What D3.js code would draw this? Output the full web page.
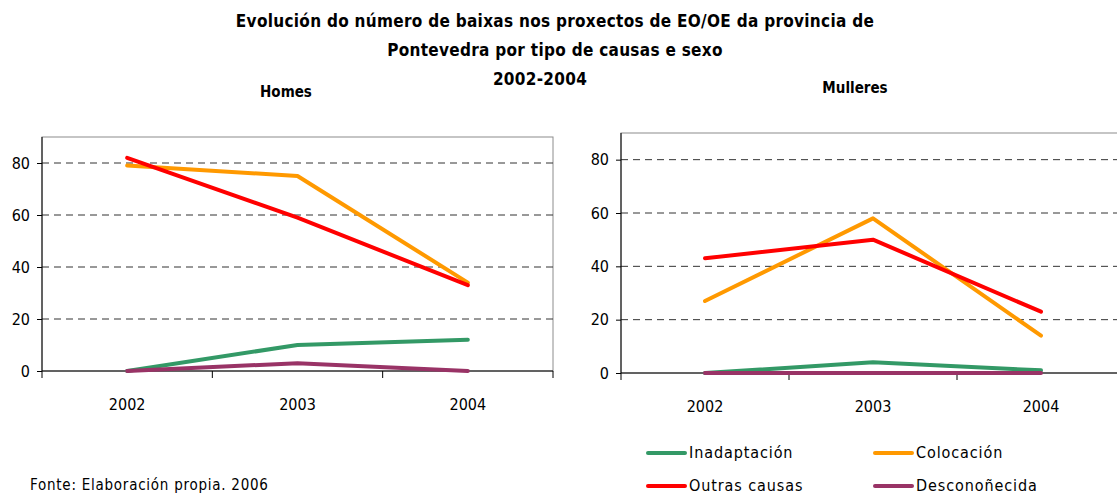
<!DOCTYPE html>
<html lang="gl">
<head>
<meta charset="UTF-8">
<title>Baixas EO/OE Pontevedra</title>
<script src="https://d3js.org/d3.v7.min.js"></script>
<style>
    body { margin: 0; background: #fff; }
    svg { display: block; font-family: "DejaVu Sans Condensed", "DejaVu Sans", sans-serif; }
</style>
</head>
<body>
<div id="chart"></div>
<script>
    const years = ["2002", "2003", "2004"];
    const seriesNames = ["Inadaptación", "Colocación", "Outras causas", "Desconoñecida"];
    const seriesColors = ["#339966", "#FF9900", "#FF0000", "#993366"];
    const yTicks = [0, 20, 40, 60, 80];

    // Homes
    const homesInadaptacion = [0, 10, 12];
    const homesColocacion = [79, 75, 34];
    const homesOutras = [82, 59, 33];
    const homesDesconecida = [0, 3, 0];

    // Mulleres
    const mulleresInadaptacion = [0, 4, 1];
    const mulleresColocacion = [27, 58, 14];
    const mulleresOutras = [43, 50, 23];
    const mulleresDesconecida = [0, 0, 0];

    const width = 1117, height = 495;
    const fontStack = "DejaVu Sans Condensed, DejaVu Sans, sans-serif";

    const svg = d3.select("#chart").append("svg")
        .attr("width", width)
        .attr("height", height);

    // title
    const titleLines = [
        "Evolución do número de baixas nos proxectos de EO/OE da provincia de",
        "Pontevedra por tipo de causas e sexo",
        "2002-2004"
    ];
    svg.append("g").selectAll("text")
        .data(titleLines)
        .enter().append("text")
        .attr("x", (d, i) => i === 2 ? 540 : 555)
        .attr("y", (d, i) => 27 + i * 29)
        .attr("text-anchor", "middle")
        .style("font-size", "17px")
        .style("font-weight", "bold")
        .style("letter-spacing", "0.3px")
        .style("fill", "#000")
        .text(d => d);

    function drawPanel(opts) {
        const g = svg.append("g")
            .attr("transform", `translate(${opts.left}, ${opts.top})`);

        const x = d3.scaleBand()
            .domain(years)
            .range([0, opts.w]);

        const y = d3.scaleLinear()
            .domain([0, 90])
            .range([opts.h, 0]);

        // frame (top + right)
        g.append("rect")
            .attr("x", 0).attr("y", 0)
            .attr("width", opts.w).attr("height", opts.h)
            .attr("fill", "none")
            .attr("stroke", "#8c8c8c")
            .attr("stroke-width", 1);

        // dashed grid
        g.selectAll(".grid")
            .data(yTicks.filter(d => d > 0))
            .enter().append("line")
            .attr("class", "grid")
            .attr("x1", 0).attr("x2", opts.w)
            .attr("y1", d => y(d)).attr("y2", d => y(d))
            .attr("stroke", "#333")
            .attr("stroke-dasharray", "7,5")
            .attr("stroke-width", 1);

        // y axis
        const yAxis = g.append("g")
            .call(d3.axisLeft(y).tickValues(yTicks).tickSize(5).tickPadding(7));
        yAxis.select(".domain").attr("stroke", "#000").attr("d", `M0,${opts.h}V0`);
        yAxis.selectAll("text").style("font-size", "16px").style("font-family", fontStack);

        // x axis with ticks on category boundaries
        const xAxis = g.append("g")
            .attr("transform", `translate(0, ${opts.h})`)
            .call(d3.axisBottom(x).tickSize(0).tickPadding(28));
        xAxis.select(".domain").attr("stroke", "#000").attr("d", `M0,0H${opts.w}`);
        xAxis.selectAll("text").style("font-size", "16px").style("font-family", fontStack);
        g.append("g")
            .attr("transform", `translate(0, ${opts.h})`)
            .selectAll("line")
            .data(years.map(d => x(d)).concat([opts.w]))
            .enter().append("line")
            .attr("x1", d => d).attr("x2", d => d)
            .attr("y1", 0).attr("y2", 7)
            .attr("stroke", "#000");

        const line = d3.line()
            .x((d, i) => x(years[i]) + x.bandwidth() / 2)
            .y(d => y(d));

        g.selectAll(".series")
            .data(opts.series)
            .enter().append("path")
            .attr("class", "series")
            .attr("d", d => line(d))
            .attr("fill", "none")
            .attr("stroke", (d, i) => seriesColors[i])
            .attr("stroke-width", 4)
            .attr("stroke-linejoin", "round")
            .attr("stroke-linecap", "round");

        svg.append("text")
            .attr("x", opts.labelX)
            .attr("y", opts.labelY)
            .attr("text-anchor", "middle")
            .style("font-size", "15px")
            .style("font-weight", "bold")
            .text(opts.label);
    }

    drawPanel({
        left: 42, top: 137, w: 511, h: 234,
        label: "Homes", labelX: 286, labelY: 97,
        series: [homesInadaptacion, homesColocacion, homesOutras, homesDesconecida]
    });

    drawPanel({
        left: 621, top: 133, w: 504, h: 240,
        label: "Mulleres", labelX: 855, labelY: 93,
        series: [mulleresInadaptacion, mulleresColocacion, mulleresOutras, mulleresDesconecida]
    });

    // legend
    const legend = svg.append("g");
    const legendItems = legend.selectAll("g")
        .data(seriesNames)
        .enter().append("g")
        .attr("transform", (d, i) => `translate(${i % 2 === 0 ? 648 : 875}, ${i < 2 ? 453 : 486})`);
    legendItems.append("line")
        .attr("x1", 0).attr("x2", 37)
        .attr("y1", 0).attr("y2", 0)
        .attr("stroke", (d, i) => seriesColors[i])
        .attr("stroke-width", 4)
        .attr("stroke-linecap", "round");
    legendItems.append("text")
        .attr("x", 41)
        .attr("y", 5)
        .style("font-size", "16px")
        .style("letter-spacing", "0.9px")
        .text(d => d);

    // source
    svg.append("text")
        .attr("x", 30)
        .attr("y", 490)
        .style("font-size", "15px")
        .style("letter-spacing", "0.75px")
        .text("Fonte: Elaboración propia. 2006");
</script>
</body>
</html>
